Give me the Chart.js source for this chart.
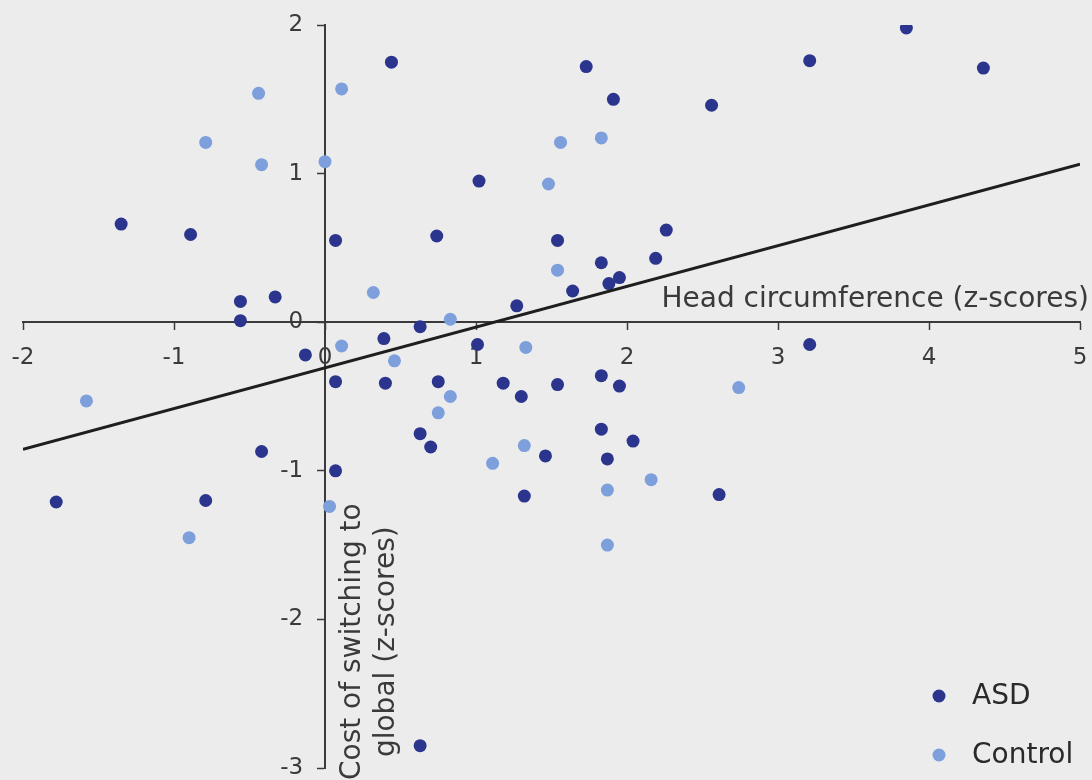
<!DOCTYPE html>
<html>
<head>
<meta charset="utf-8">
<script src="https://cdn.jsdelivr.net/npm/chart.js@4.4.1/dist/chart.umd.min.js"></script>
<style>
  html, body { margin: 0; padding: 0; background: #ececec; }
  #wrap { width: 1092px; height: 780px; }
  canvas { display: block; background: #ececec; }
</style>
</head>
<body>
<div id="wrap"><canvas id="c" width="1092" height="780"></canvas></div>
<script>
// Head circumference vs. cost of switching to global processing (both z-scores)
const asdX = [0.44, 3.85, 1.73, 1.91, 2.56, 3.21, 4.36, 1.02, -1.35, -0.89,
              0.07, 0.74, 1.54, 2.26, 2.19, 1.83, 1.95, 1.88, 1.64, 1.27,
              -0.56, -0.33, -0.56, 0.63, 0.39, 1.01, -0.13, 0.07, 0.40, 0.75,
              1.18, 1.30, 1.54, 1.83, 1.95, 3.21, -0.42, 0.63, 0.70, 1.46,
              1.83, 2.04, 1.87, 0.07, -1.78, -0.79, 1.32, 2.61, 0.63];
const asdY = [1.75, 1.98, 1.72, 1.50, 1.46, 1.76, 1.71, 0.95, 0.66, 0.59,
              0.55, 0.58, 0.55, 0.62, 0.43, 0.40, 0.30, 0.26, 0.21, 0.11,
              0.14, 0.17, 0.01, -0.03, -0.11, -0.15, -0.22, -0.40, -0.41, -0.40,
              -0.41, -0.50, -0.42, -0.36, -0.43, -0.15, -0.87, -0.75, -0.84, -0.90,
              -0.72, -0.80, -0.92, -1.00, -1.21, -1.20, -1.17, -1.16, -2.85];

const controlX = [-0.44, 0.11, -0.79, -0.42, 0.00, 1.56, 1.83, 1.48, 1.54, 0.32,
                  0.83, 0.11, 0.46, 1.33, 2.74, -1.58, 0.83, 0.75, 1.32, 1.11,
                  1.87, 2.16, -0.90, 0.03, 1.87];
const controlY = [1.54, 1.57, 1.21, 1.06, 1.08, 1.21, 1.24, 0.93, 0.35, 0.20,
                  0.02, -0.16, -0.26, -0.17, -0.44, -0.53, -0.50, -0.61, -0.83, -0.95,
                  -1.13, -1.06, -1.45, -1.24, -1.50];

// Fitted regression line across the plotted range
const trendX = [-2, 5];
const trendY = [-0.855, 1.063];

const xTickValues = [-2, -1, 0, 1, 2, 3, 4, 5];
const yTickValues = [-3, -2, -1, 0, 1, 2];

const seriesNames = ['ASD', 'Control'];
const xTitle = 'Head circumference (z-scores)';
const yTitleLines = ['Cost of switching to', 'global (z-scores)'];

const ASD_COLOR = '#2b358e';
const CONTROL_COLOR = '#7d9fdc';
const AXIS_COLOR = '#3a3a3a';
const FONT = "'DejaVu Sans', Verdana, sans-serif";

const pairs = (xs, ys) => xs.map((x, i) => ({ x, y: ys[i] }));

// Axes cross inside the plot, so their labels need no extra room at the edges
const noEdgePadding = s => {
  s.paddingLeft = 0; s.paddingRight = 0; s.paddingTop = 0; s.paddingBottom = 0;
};

// Axis titles placed beside the crossing axes
const axisTitles = {
  id: 'axisTitles',
  afterDraw(chart) {
    const { ctx, scales } = chart;
    ctx.save();
    ctx.fillStyle = AXIS_COLOR;
    ctx.font = '28px ' + FONT;
    ctx.textAlign = 'right';
    ctx.textBaseline = 'alphabetic';
    ctx.fillText(xTitle, scales.x.right + 9, scales.y.getPixelForValue(0) - 15);

    const cx = scales.x.getPixelForValue(0) + 45;
    const cy = scales.y.getPixelForValue(-2.15);
    ctx.translate(cx, cy);
    ctx.rotate(-Math.PI / 2);
    ctx.textAlign = 'center';
    ctx.textBaseline = 'middle';
    yTitleLines.forEach((line, i) => ctx.fillText(line, 0, -17 + i * 34));
    ctx.restore();
  }
};

// Point legend in the lower right corner
const pointLegend = {
  id: 'pointLegend',
  afterDraw(chart) {
    const { ctx } = chart;
    const items = chart.data.datasets.filter(d => seriesNames.includes(d.label));
    ctx.save();
    ctx.font = '28px ' + FONT;
    ctx.textAlign = 'left';
    ctx.textBaseline = 'middle';
    items.forEach((d, i) => {
      const y = 696 + i * 59;
      ctx.beginPath();
      ctx.arc(939, y, 6.5, 0, Math.PI * 2);
      ctx.fillStyle = d.backgroundColor;
      ctx.fill();
      ctx.fillStyle = '#2a2a2a';
      ctx.fillText(d.label, 972, y + 1);
    });
    ctx.restore();
  }
};

new Chart(document.getElementById('c'), {
  type: 'scatter',
  data: {
    datasets: [
      {
        label: seriesNames[0],
        data: pairs(asdX, asdY),
        backgroundColor: ASD_COLOR,
        borderWidth: 0,
        pointRadius: 6.5,
        order: 2
      },
      {
        label: seriesNames[1],
        data: pairs(controlX, controlY),
        backgroundColor: CONTROL_COLOR,
        borderWidth: 0,
        pointRadius: 6.5,
        order: 3
      },
      {
        label: 'Linear fit',
        data: pairs(trendX, trendY),
        showLine: true,
        borderColor: '#1e1e1e',
        borderWidth: 3,
        pointRadius: 0,
        fill: false,
        order: 1
      }
    ]
  },
  options: {
    responsive: false,
    animation: false,
    events: [],
    layout: { autoPadding: false, padding: { left: 23, right: 12, top: 25, bottom: 12 } },
    plugins: { legend: { display: false }, tooltip: { enabled: false } },
    scales: {
      x: {
        type: 'linear',
        min: -2, max: 5,
        position: { y: 0 },
        afterBuildTicks: s => { s.ticks = xTickValues.map(v => ({ value: v })); },
        afterFit: noEdgePadding,
        ticks: { color: AXIS_COLOR, font: { family: FONT, size: 23 }, padding: 15 },
        grid: { drawOnChartArea: false, drawTicks: true, tickLength: 7, color: AXIS_COLOR, tickWidth: 1.5 },
        border: { display: true, color: AXIS_COLOR, width: 2 }
      },
      y: {
        type: 'linear',
        min: -3, max: 2,
        position: { x: 0 },
        afterBuildTicks: s => { s.ticks = yTickValues.map(v => ({ value: v })); },
        afterFit: noEdgePadding,
        // labels of an axis placed at x = 0 sit flush on it; trailing spaces keep a gap
        ticks: { color: AXIS_COLOR, font: { family: FONT, size: 23 }, callback: v => v + '   ' },
        grid: { drawOnChartArea: false, drawTicks: true, tickLength: 7, color: AXIS_COLOR, tickWidth: 1.5 },
        border: { display: true, color: AXIS_COLOR, width: 2 }
      }
    }
  },
  plugins: [axisTitles, pointLegend]
});
</script>
</body>
</html>
